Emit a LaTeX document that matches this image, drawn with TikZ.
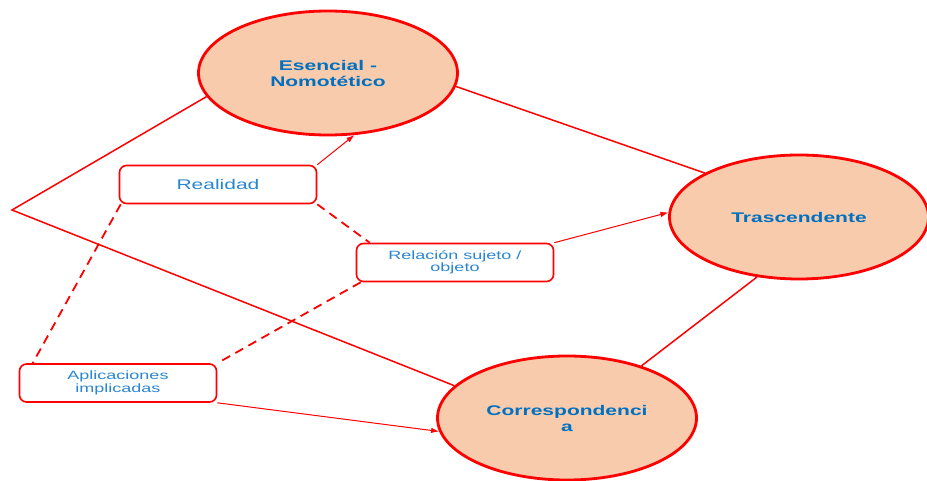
\documentclass[tikz,border=0pt]{standalone}
\usepackage{fontspec}
\setmainfont{Liberation Sans}[FakeStretch=1.5]
\usetikzlibrary{shapes.geometric,arrows.meta}
\definecolor{redline}{HTML}{FF0000}
\definecolor{peach}{HTML}{F8CBAD}
\definecolor{darkblue}{HTML}{0070C0}
\definecolor{lightblue}{HTML}{2A86D1}
\begin{document}
\begin{tikzpicture}[x=1pt,y=-1pt,
 concept/.style={ellipse,draw=redline,line width=2.8pt,fill=peach,minimum width=259pt,minimum height=124pt,inner sep=0pt,align=center,font=\fontsize{14}{16}\selectfont\bfseries,text=darkblue},
 idea/.style={rectangle,rounded corners=7pt,draw=redline,line width=1.6pt,fill=white,minimum width=197pt,minimum height=38pt,inner sep=0pt,align=center,font=\fontsize{12}{12.5}\selectfont,text=lightblue},
 link/.style={draw=redline,line width=1.5pt},
 dashlink/.style={draw=redline,line width=1.8pt,dash pattern=on 9pt off 6pt},
 arrowlink/.style={draw=redline,line width=1pt,-{Latex[length=8pt,width=5.5pt]}}]
\useasboundingbox (0,0) rectangle (927,481);
% concepts
\node[concept] (ess) at (328,73) {Esencial -\\Nomotético};
\node[concept] (tra) at (799,217) {Trascendente};
\node[concept] (cor) at (567,418) {Correspondenci\\a};
% ideas
\node[idea,font=\fontsize{14}{15}\selectfont] (rea) at (218,184.5) {Realidad};
\node[idea] (rel) at (455,262.5) {Relación sujeto /\\objeto};
\node[idea] (apl) at (118,383) {Aplicaciones\\implicadas};
\coordinate (apex) at (12,210);
% solid links
\draw[link] (ess.191) -- (apex) -- (cor.164);
\draw[link] (ess.354) -- (tra.155);
\draw[link] (tra.235) -- (cor.35);
% arrows
\draw[arrowlink] (rea.north east) -- (ess.293);
\draw[arrowlink] (rel.north east) -- (tra.178);
\draw[arrowlink] (apl.south east) -- (cor.186);
% dashed links
\draw[dashlink] (rea.south east) -- ([xshift=14pt]rel.north west);
\draw[dashlink] ([xshift=2pt]rea.south west) -- ([xshift=14pt]apl.north west);
\draw[dashlink] ([xshift=5pt]rel.south west) -- (apl.north east);
\end{tikzpicture}
\end{document}
